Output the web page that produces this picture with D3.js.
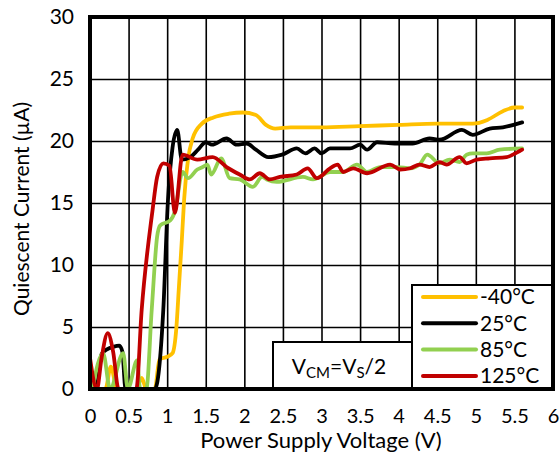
<!DOCTYPE html>
<html>
<head>
<meta charset="utf-8">
<script src="https://cdn.jsdelivr.net/npm/d3@7"></script>
<style>
  html, body { margin: 0; padding: 0; background: #fff; }
  svg text { font-family: Lato, "Open Sans", sans-serif; fill: #000; }
</style>
</head>
<body>
<div id="chart"></div>
<script>
// Quiescent current vs supply voltage, four temperatures

const xTicks = [0, 0.5, 1, 1.5, 2, 2.5, 3, 3.5, 4, 4.5, 5, 5.5, 6];
const yTicks = [0, 5, 10, 15, 20, 25, 30];

const seriesNames = ["-40°C", "25°C", "85°C", "125°C"];
const seriesColors = ["#FFC000", "#000000", "#92D050", "#C00000"];

// [voltage, current]
const tMinus40 = [
  [0, 0], [0.2, 0], [0.27, 1.8], [0.35, 0], [0.6, 0], [0.67, 0.9], [0.73, 0],
  [0.84, 0], [0.9, 2.4], [1.0, 2.6], [1.07, 2.9], [1.12, 5], [1.15, 8], [1.19, 12],
  [1.22, 15.3], [1.27, 18.5], [1.33, 20.2], [1.45, 21.4], [1.6, 21.9], [1.8, 22.2],
  [1.98, 22.3], [2.15, 22.1], [2.28, 21.3], [2.4, 21.0], [2.6, 21.1], [3.0, 21.1],
  [3.5, 21.2], [4.0, 21.3], [4.5, 21.4], [4.96, 21.4], [5.15, 21.7], [5.35, 22.4],
  [5.5, 22.7], [5.6, 22.7]
];
const t25 = [
  [0, 0], [0.08, 0], [0.15, 2.8], [0.22, 3.2], [0.3, 3.4], [0.38, 3.5], [0.42, 3.0],
  [0.46, 0], [0.84, 0], [0.95, 6.4], [1.01, 15.2], [1.07, 19.5], [1.13, 20.9],
  [1.19, 18.5], [1.3, 18.7], [1.4, 19.3], [1.5, 19.9], [1.58, 19.7], [1.77, 20.2],
  [1.9, 19.7], [2.03, 19.8], [2.15, 19.3], [2.31, 18.7], [2.49, 18.9], [2.68, 19.4],
  [2.79, 19.0], [2.91, 19.4], [3.0, 19.0], [3.11, 19.4], [3.37, 19.4], [3.5, 19.7],
  [3.59, 19.3], [3.72, 19.9], [3.95, 19.8], [4.18, 19.8], [4.4, 20.2], [4.53, 20.1],
  [4.82, 20.9], [4.96, 20.5], [5.18, 21.0], [5.35, 21.1], [5.6, 21.5]
];
const t85 = [
  [0.03, 0], [0.17, 2.9], [0.26, 0], [0.43, 2.9], [0.49, 0], [0.61, 2.3], [0.65, 0],
  [0.73, 0], [0.8, 6.4], [0.87, 12.3], [0.91, 13.2], [1.04, 13.6], [1.1, 14.3],
  [1.2, 17.5], [1.27, 17.0], [1.39, 17.7], [1.46, 17.9], [1.52, 18.1], [1.57, 17.3],
  [1.7, 18.6], [1.81, 17.0], [1.94, 16.9], [2.11, 16.3], [2.23, 17.1], [2.29, 16.9],
  [2.42, 16.7], [2.76, 17.1], [2.89, 16.9], [3.11, 17.5], [3.28, 17.5], [3.46, 18.1],
  [3.59, 17.5], [3.76, 17.9], [3.98, 17.9], [4.15, 17.8], [4.27, 18.1], [4.37, 18.9],
  [4.53, 18.2], [4.66, 18.5], [4.79, 18.3], [4.88, 18.9], [4.96, 19.0], [5.14, 19.0],
  [5.31, 19.3], [5.6, 19.4]
];
const t125 = [
  [0, 2.5], [0.09, 0], [0.15, 2.5], [0.23, 4.5], [0.3, 3.0], [0.37, 0], [0.6, 0],
  [0.67, 6.4], [0.81, 14.4], [0.87, 17.1], [0.95, 18.2], [1.03, 18.0], [1.1, 14.2],
  [1.2, 18.9], [1.39, 18.5], [1.59, 18.7], [1.77, 17.9], [1.94, 17.3], [2.07, 16.9],
  [2.2, 17.4], [2.33, 16.9], [2.46, 17.1], [2.68, 17.3], [2.82, 17.8], [2.94, 17.0],
  [3.11, 17.8], [3.21, 18.1], [3.28, 17.5], [3.41, 17.8], [3.59, 17.4], [3.89, 18.1],
  [4.02, 17.7], [4.15, 17.8], [4.27, 18.1], [4.4, 17.9], [4.53, 18.3], [4.62, 18.1],
  [4.79, 18.7], [4.88, 18.2], [5.01, 18.5], [5.18, 18.6], [5.4, 18.7], [5.48, 18.9],
  [5.6, 19.3]
];
const seriesValues = [tMinus40, t25, t85, t125];

// ---- Layout ----
const W = 560, H = 453;
const plot = { left: 90, right: 553, top: 17, bottom: 389 };

const svg = d3.select("#chart").append("svg")
  .attr("width", W).attr("height", H);

const x = d3.scaleLinear().domain([0, 6]).range([plot.left, plot.right]);
const y = d3.scaleLinear().domain([0, 30]).range([plot.bottom, plot.top]);

// grid
svg.append("g")
  .attr("transform", `translate(0,${plot.bottom})`)
  .call(d3.axisBottom(x).tickValues(xTicks).tickSize(-(plot.bottom - plot.top)).tickFormat(""))
  .call(g => g.select(".domain").remove())
  .selectAll("line").attr("stroke", "#000").attr("stroke-width", 1.6);

svg.append("g")
  .attr("transform", `translate(${plot.left},0)`)
  .call(d3.axisLeft(y).tickValues(yTicks).tickSize(-(plot.right - plot.left)).tickFormat(""))
  .call(g => g.select(".domain").remove())
  .selectAll("line").attr("stroke", "#000").attr("stroke-width", 1.6);

// tick labels
svg.append("g")
  .attr("transform", `translate(0,${plot.bottom})`)
  .call(d3.axisBottom(x).tickValues(xTicks).tickSize(0).tickPadding(20).tickFormat(d => d))
  .call(g => g.select(".domain").remove())
  .selectAll("text").attr("font-size", 20).style("font-family", "Lato, sans-serif");

svg.append("g")
  .attr("transform", `translate(${plot.left},0)`)
  .call(d3.axisLeft(y).tickValues(yTicks).tickSize(0).tickPadding(16).tickFormat(d => d))
  .call(g => g.select(".domain").remove())
  .selectAll("text").attr("font-size", 21).style("font-family", "Lato, sans-serif");

// curves
svg.append("clipPath").attr("id", "clip")
  .append("rect")
  .attr("x", plot.left).attr("y", plot.top)
  .attr("width", plot.right - plot.left).attr("height", plot.bottom - plot.top);

const line = d3.line()
  .x(d => x(d[0]))
  .y(d => y(d[1]))
  .curve(d3.curveMonotoneX);

svg.append("g").attr("clip-path", "url(#clip)")
  .selectAll("path").data(seriesValues).enter().append("path")
  .attr("d", line)
  .attr("fill", "none")
  .attr("stroke", (d, i) => seriesColors[i])
  .attr("stroke-width", 3.8)
  .attr("stroke-linejoin", "round")
  .attr("stroke-linecap", "round");

// frame
svg.append("rect")
  .attr("x", plot.left).attr("y", plot.top)
  .attr("width", plot.right - plot.left).attr("height", plot.bottom - plot.top)
  .attr("fill", "none").attr("stroke", "#000").attr("stroke-width", 4);

// annotation box
const ann = svg.append("g");
ann.append("rect")
  .attr("x", 273).attr("y", 342).attr("width", 139).attr("height", plot.bottom - 342)
  .attr("fill", "#fff").attr("stroke", "#000").attr("stroke-width", 2);
const annText = ann.append("text")
  .attr("x", 339).attr("y", 374).attr("text-anchor", "middle").attr("font-size", 21);
annText.append("tspan").text("V");
annText.append("tspan").attr("font-size", 15).attr("dy", 4).text("CM");
annText.append("tspan").attr("dy", -4).text("=V");
annText.append("tspan").attr("font-size", 15).attr("dy", 4).text("S");
annText.append("tspan").attr("dy", -4).text("/2");

// legend
const lg = svg.append("g");
lg.append("rect")
  .attr("x", 412).attr("y", 285).attr("width", plot.right - 412).attr("height", plot.bottom - 285)
  .attr("fill", "#fff").attr("stroke", "#000").attr("stroke-width", 2);
const item = lg.selectAll(".item").data(seriesNames).enter().append("g")
  .attr("transform", (d, i) => `translate(0,${297 + i * 26.3})`);
item.append("line")
  .attr("x1", 423).attr("x2", 476)
  .attr("stroke", (d, i) => seriesColors[i]).attr("stroke-width", 4)
  .attr("stroke-linecap", "round");
item.append("text")
  .attr("x", 480).attr("dy", "0.35em").attr("font-size", 21)
  .text(d => d);

// redraw frame edges over boxes
svg.append("line")
  .attr("x1", plot.left - 2).attr("x2", plot.right + 2)
  .attr("y1", plot.bottom).attr("y2", plot.bottom)
  .attr("stroke", "#000").attr("stroke-width", 4);
svg.append("line")
  .attr("x1", plot.right).attr("x2", plot.right)
  .attr("y1", plot.top - 2).attr("y2", plot.bottom + 2)
  .attr("stroke", "#000").attr("stroke-width", 4);

// axis titles
svg.append("text")
  .attr("x", 321).attr("y", 448).attr("text-anchor", "middle").attr("font-size", 22)
  .text("Power Supply Voltage (V)");
svg.append("text")
  .attr("transform", "translate(29,209) rotate(-90)")
  .attr("text-anchor", "middle").attr("font-size", 21)
  .text("Quiescent Current (µA)");
</script>
</body>
</html>
